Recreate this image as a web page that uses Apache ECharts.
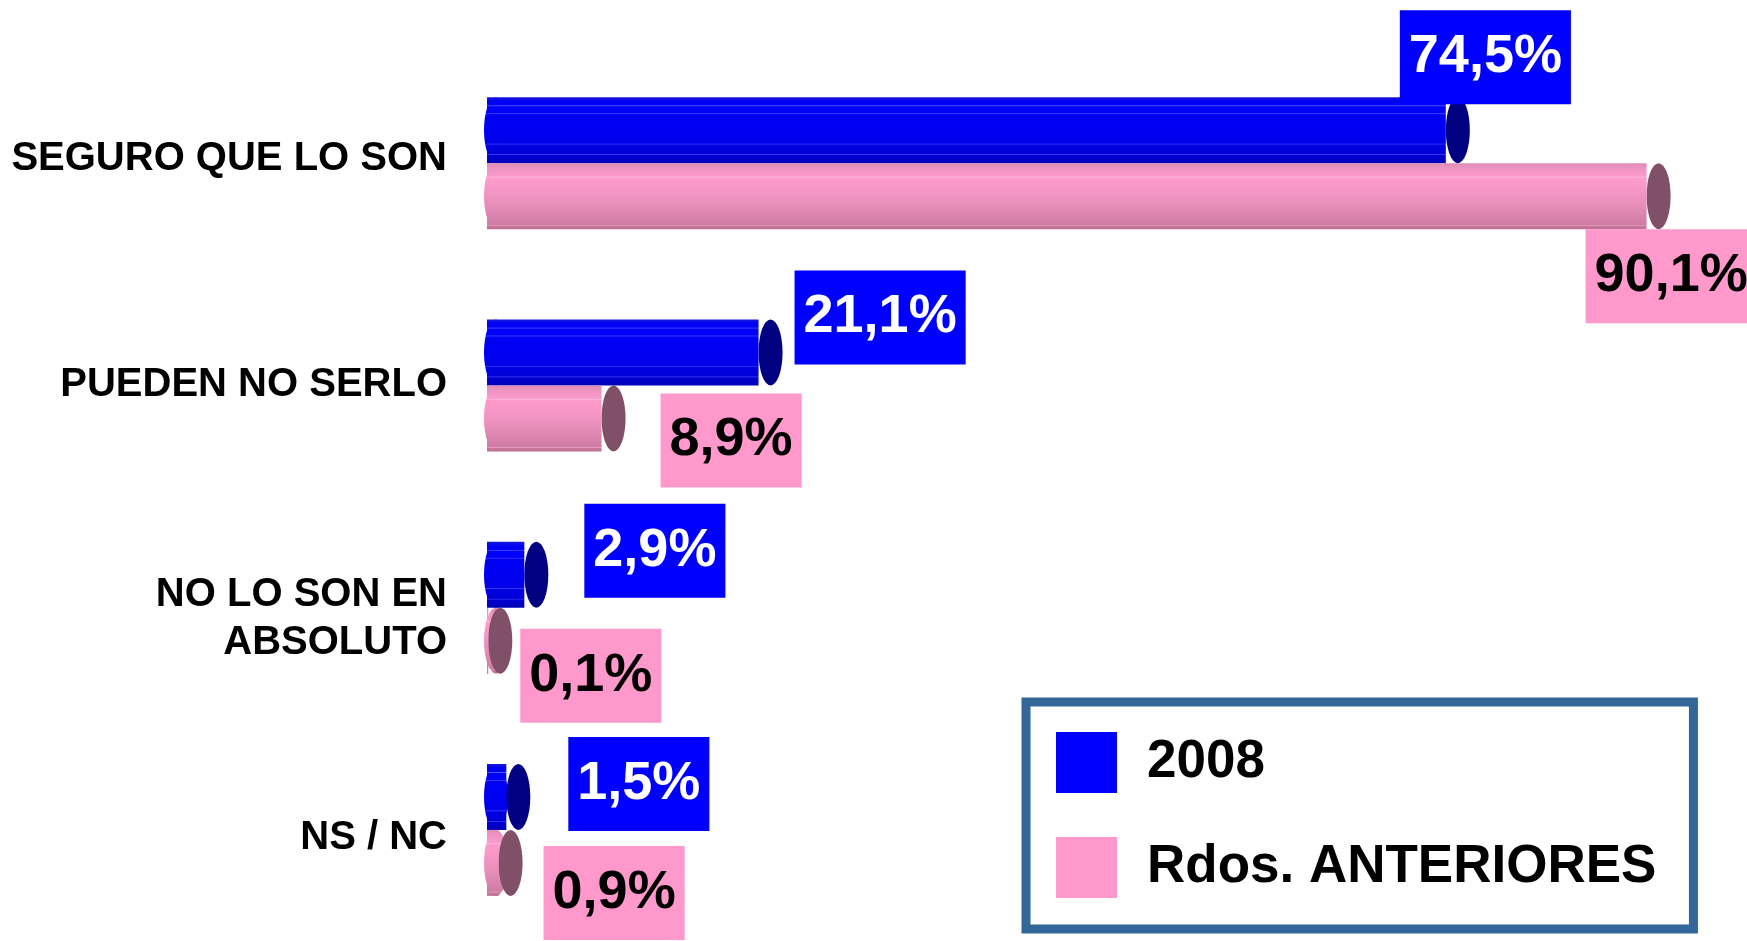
<!DOCTYPE html>
<html>
<head>
<meta charset="utf-8">
<script src="https://cdn.jsdelivr.net/npm/echarts@6/dist/echarts.min.js"></script>
<style>
  html, body { margin: 0; padding: 0; background: #ffffff; }
  #chart { width: 1747px; height: 941px; }
</style>
</head>
<body>
<div id="chart"></div>
<script>
// ---- data ----
const categories = ['SEGURO QUE LO SON', 'PUEDEN NO SERLO', 'NO LO SON EN\nABSOLUTO', 'NS / NC'];
const seriesNames = ['2008', 'Rdos. ANTERIORES'];
const values2008 = [74.5, 21.1, 2.9, 1.5];
const valuesPrev = [90.1, 8.9, 0.1, 0.9];

// ---- layout (label box offsets relative to bar end, category label spacers) ----
const offsets2008 = [[-46, -73], [36, -35], [60, -24], [62, -13]];
const offsetsPrev = [[-61, 80], [59, 22], [32, 35], [45, 30]];
const catSpacerTop = ['', '', 'a', 'b'];
const catSpacerBottom = ['c', '', '', ''];

const FONT = '"Liberation Sans", Arial, Helvetica, sans-serif';
const BAR_H = 66;
const X_MAX = 96;
const PX_PER_UNIT = 12.87;

const blueBody = new echarts.graphic.LinearGradient(0, 0, 0, 1, [
  { offset: 0, color: '#1a1ad8' },
  { offset: 0.06, color: '#0000f2' },
  { offset: 0.12, color: '#0000ff' },
  { offset: 0.13, color: '#5555ff' },
  { offset: 0.145, color: '#0000ff' },
  { offset: 0.24, color: '#0000ff' },
  { offset: 0.25, color: '#4444ff' },
  { offset: 0.265, color: '#0000f8' },
  { offset: 0.6, color: '#0000ee' },
  { offset: 0.7, color: '#0000e8' },
  { offset: 0.71, color: '#3a3aff' },
  { offset: 0.725, color: '#0000e2' },
  { offset: 0.86, color: '#0000d8' },
  { offset: 0.87, color: '#3636f0' },
  { offset: 0.885, color: '#0000d0' },
  { offset: 1, color: '#0000b8' }
]);
const pinkBody = new echarts.graphic.LinearGradient(0, 0, 0, 1, [
  { offset: 0, color: '#dd8cb4' },
  { offset: 0.08, color: '#ee94c2' },
  { offset: 0.2, color: '#fb9acb' },
  { offset: 0.21, color: '#ffc0e0' },
  { offset: 0.225, color: '#ff99cc' },
  { offset: 0.4, color: '#f597c6' },
  { offset: 0.6, color: '#e98fbb' },
  { offset: 0.8, color: '#da84ad' },
  { offset: 0.93, color: '#cf7ca3' },
  { offset: 0.94, color: '#e8a0c4' },
  { offset: 0.955, color: '#c97799' },
  { offset: 1, color: '#bf6f94' }
]);

function fmt(v) { return v.toFixed(1).replace('.', ',') + '%'; }

function labelBase(bg, fg) {
  return {
    show: true,
    position: 'right',
    distance: 0,
    formatter: p => fmt(p.value),
    backgroundColor: bg,
    color: fg,
    fontFamily: FONT,
    fontSize: 54,
    fontWeight: 'bold',
    lineHeight: 58,
    padding: [18, 9]
  };
}

function barSeries(name, values, offsets, body, bg, fg) {
  return {
    name: name,
    type: 'bar',
    barWidth: BAR_H,
    barGap: '0%',
    z: 2,
    itemStyle: { color: body },
    label: labelBase(bg, fg),
    emphasis: { disabled: true },
    data: values.map((v, i) => ({ value: v, label: { offset: offsets[i] } }))
  };
}

function capSeries(values, dy, color) {
  return {
    type: 'scatter',
    symbol: 'circle',
    symbolSize: [24, BAR_H],
    symbolOffset: [12, dy],
    clip: false,
    z: 1,
    silent: true,
    itemStyle: { color: color, opacity: 1 },
    emphasis: { disabled: true },
    data: values.map((v, i) => [v, i])
  };
}

function backSeries(values, dy, color) {
  return {
    type: 'scatter',
    symbol: 'circle',
    symbolSize: [24, BAR_H],
    symbolOffset: [9, dy],
    clip: false,
    z: 1,
    silent: true,
    itemStyle: { color: color, opacity: 1 },
    emphasis: { disabled: true },
    data: values.map((v, i) => [0, i])
  };
}

const chart = echarts.init(document.getElementById('chart'), null, { renderer: 'canvas' });
chart.setOption({
  animation: false,
  backgroundColor: '#ffffff',
  grid: { left: 487, top: 52, width: X_MAX * PX_PER_UNIT, height: 892, containLabel: false },
  xAxis: { type: 'value', min: 0, max: X_MAX, show: false },
  yAxis: {
    type: 'category',
    inverse: true,
    data: categories,
    axisLine: { show: false },
    axisTick: { show: false },
    splitLine: { show: false },
    axisLabel: {
      margin: 40,
      fontFamily: FONT,
      fontSize: 40,
      fontWeight: 'bold',
      color: '#000000',
      lineHeight: 48,
      align: 'right',
      formatter: (v, i) =>
        (catSpacerTop[i] ? '{' + catSpacerTop[i] + '| }\n' : '') + v +
        (catSpacerBottom[i] ? '\n{' + catSpacerBottom[i] + '| }' : ''),
      rich: {
        a: { fontSize: 1, lineHeight: 22 },
        b: { fontSize: 1, lineHeight: 16 },
        c: { fontSize: 1, lineHeight: 9 }
      }
    }
  },
  legend: {
    orient: 'vertical',
    left: 1026,
    top: 702,
    padding: [30, 37, 31, 30],
    borderColor: '#336699',
    borderWidth: 9,
    backgroundColor: '#ffffff',
    itemWidth: 61,
    itemHeight: 61,
    itemGap: 44,
    icon: 'rect',
    selectedMode: false,
    textStyle: {
      fontFamily: FONT,
      fontSize: 53,
      fontWeight: 'bold',
      color: '#000000',
      padding: [0, 0, 0, 25]
    },
    data: [
      { name: seriesNames[0], itemStyle: { color: '#0000FF' } },
      { name: seriesNames[1], itemStyle: { color: '#FF99CC' } }
    ]
  },
  series: [
    backSeries(values2008, -BAR_H / 2, blueBody),
    backSeries(valuesPrev, BAR_H / 2, pinkBody),
    capSeries(values2008, -BAR_H / 2, '#000080'),
    capSeries(valuesPrev, BAR_H / 2, '#805068'),
    barSeries(seriesNames[0], values2008, offsets2008, blueBody, '#0000FF', '#ffffff'),
    barSeries(seriesNames[1], valuesPrev, offsetsPrev, pinkBody, '#FF99CC', '#000000')
  ]
});
</script>
</body>
</html>
